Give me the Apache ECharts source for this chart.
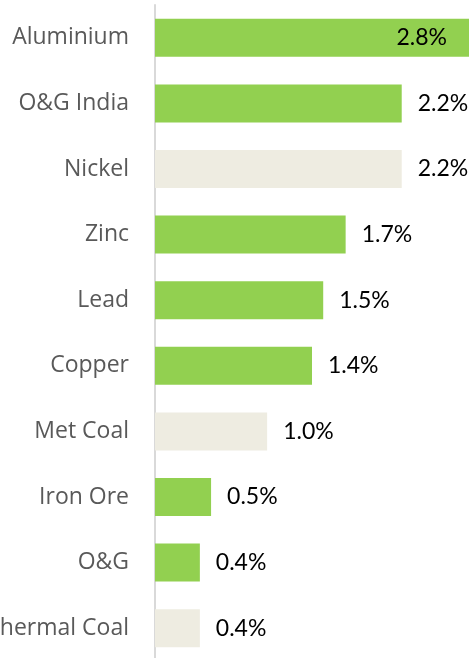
<!DOCTYPE html>
<html>
<head>
<meta charset="utf-8">
<script src="https://cdn.jsdelivr.net/npm/echarts@6/dist/echarts.min.js"></script>
<style>
  html, body { margin: 0; padding: 0; background: #fff; }
  #chart { width: 472px; height: 658px; }
</style>
</head>
<body>
<div id="chart"></div>
<script>
const categories = ['Aluminium', 'O&G India', 'Nickel', 'Zinc', 'Lead', 'Copper', 'Met Coal', 'Iron Ore', 'O&G', 'Thermal Coal'];
const values = [2.8, 2.2, 2.2, 1.7, 1.5, 1.4, 1.0, 0.5, 0.4, 0.4];
const highlight = [false, false, true, false, false, false, true, false, false, true]; // beige bars

const GREEN = '#92D050';
const BEIGE = '#EEECE1';

const chart = echarts.init(document.getElementById('chart'));

const seriesData = values.map(function (v, i) {
  const item = {
    value: v,
    itemStyle: { color: highlight[i] ? BEIGE : GREEN }
  };
  if (i === 0) { // biggest bar: label sits inside
    item.label = { position: 'insideRight', distance: 22 };
  }
  return item;
});

chart.setOption({
  animation: false,
  grid: { left: 155, right: 3, top: 5, bottom: -3, outerBoundsMode: 'none', containLabel: false },
  xAxis: {
    type: 'value',
    min: 0,
    max: 2.8,
    show: false
  },
  yAxis: {
    type: 'category',
    data: categories,
    inverse: true,
    axisLine: { lineStyle: { color: '#d9d9d9', width: 2 } },
    axisTick: { show: false },
    axisLabel: {
      margin: 26,
      color: '#595959',
      fontSize: 23,
      fontFamily: 'Open Sans'
    }
  },
  series: [{
    type: 'bar',
    data: seriesData,
    barWidth: 38,
    label: {
      show: true,
      position: 'right',
      distance: 16,
      color: '#000',
      fontSize: 23,
      fontFamily: 'Lato',
      formatter: function (p) { return p.value.toFixed(1) + '%'; }
    }
  }]
});
</script>
</body>
</html>
